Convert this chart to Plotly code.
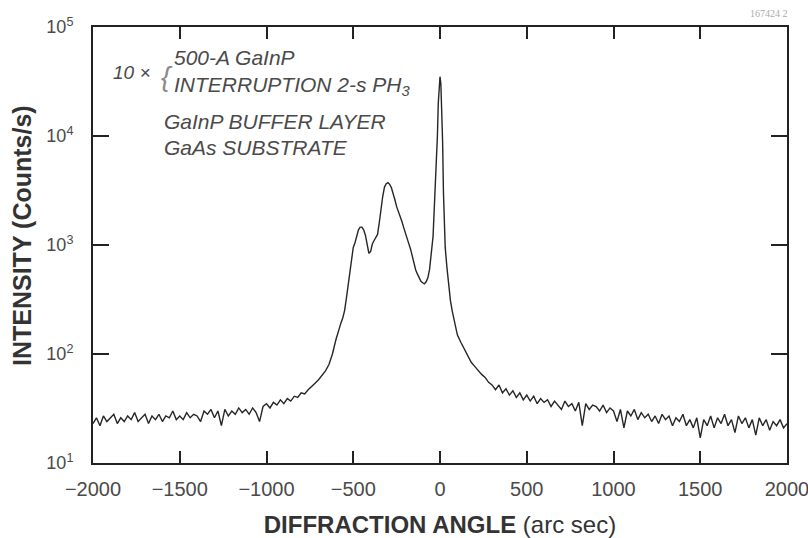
import math
import plotly.graph_objects as go

# ---------------- data ----------------
# left wing, sampled every 20 arc sec from -2000 to -620
angle_left = list(range(-2000, -600, 20))
counts_left = [
    23, 26, 22, 27, 24, 26, 28, 23, 26, 24,
    27, 25, 29, 24, 26, 28, 23, 27, 25, 28,
    24, 27, 26, 30, 25, 27, 25, 29, 26, 28,
    27, 24, 30, 28, 31, 26, 30, 22, 31, 27,
    30, 28, 32, 29, 31, 28, 32, 29, 24, 33,
    35, 32, 36, 34, 38, 35, 39, 37, 41, 40,
    44, 43, 47, 50, 54, 58, 63, 70, 80, 100,
]

# central region with the layer peaks and the substrate peak
angle_peak = [
    -600, -590, -580, -570, -560, -550, -540, -530, -520, -510,
    -500, -490, -480, -470, -460, -450, -440, -430, -420, -410,
    -400, -390, -380, -370, -360, -350, -340, -330, -320, -310,
    -300, -290, -280, -270, -260, -250, -240, -230, -220, -210,
    -200, -190, -180, -170, -160, -150, -140, -130, -120, -110,
    -100, -90, -80, -70, -60, -50, -40, -30, -25, -20,
    -15, -10, -5, 0, 5, 10, 15, 20, 25, 30,
    40, 50, 60, 70, 80, 90,
]
counts_peak = [
    135, 155, 175, 195, 215, 250, 320, 420, 560, 800,
    950, 1050, 1200, 1380, 1460, 1460, 1380, 1230, 1020, 840,
    870, 1020, 1100, 1170, 1250, 1600, 2200, 2800, 3400, 3650,
    3730, 3600, 3350, 3000, 2600, 2250, 2050, 1850, 1650, 1460,
    1280, 1150, 1030, 920, 790, 680, 590, 540, 500, 465,
    450, 440, 460, 500, 600, 850, 1200, 2800, 4000, 5500,
    10000, 20000, 30000, 35000, 30000, 18000, 9000, 3000, 1500, 950,
    620, 400, 310, 250, 205, 175,
]

# right wing, sampled every 20 arc sec from 100 to 2000
angle_right = list(range(100, 2001, 20))
counts_right = [
    150, 128, 110, 97, 84, 77, 70, 65, 61, 55,
    52, 47, 52, 44, 48, 42, 46, 40, 44, 38,
    42, 37, 41, 35, 39, 36, 38, 33, 37, 34,
    31, 37, 33, 35, 30, 36, 22, 35, 31, 34,
    33, 30, 34, 29, 32, 30, 24, 31, 21, 30,
    27, 31, 25, 29, 26, 28, 24, 27, 23, 28,
    25, 27, 22, 26, 24, 28, 22, 25, 21, 26,
    17, 25, 22, 27, 21, 26, 23, 28, 22, 25,
    19, 27, 23, 26, 21, 25, 18, 26, 22, 25,
    20, 24, 22, 25, 21, 23,
]

x_tick_values = [-2000, -1500, -1000, -500, 0, 500, 1000, 1500, 2000]
x_tick_labels = ["\u22122000", "\u22121500", "\u22121000", "\u2212500", "0",
                 "500", "1000", "1500", "2000"]
y_tick_values = [10, 100, 1000, 10000, 100000]
y_tick_labels = ["10<sup>1</sup>", "10<sup>2</sup>", "10<sup>3</sup>",
                 "10<sup>4</sup>", "10<sup>5</sup>"]
y_minor_values = [m * 10 ** d for d in range(1, 5) for m in range(2, 10)]

angle = angle_left + angle_peak + angle_right
counts = counts_left + counts_peak + counts_right

# ---------------- figure ----------------
AXIS = "#222222"
TXT = "#4a4a4a"
FONT = "Liberation Sans, Arial, sans-serif"
W, H = 808, 538
L, R, T, B = 93, 21, 27, 75
PW, PH = W - L - R, H - T - B


def px_to_paper(px, py):
    return (px - L) / PW, (H - B - py) / PH


fig = go.Figure()
fig.add_trace(go.Scatter(
    x=angle, y=counts, mode="lines",
    line=dict(color="#262626", width=1.4),
    showlegend=False, hoverinfo="skip",
))

fig.update_layout(
    width=W, height=H,
    margin=dict(l=L, r=R, t=T, b=B, autoexpand=False),
    paper_bgcolor="white", plot_bgcolor="white",
    font=dict(family=FONT, color=TXT, size=17),
    xaxis=dict(
        range=[-2000, 2000], automargin=False,
        tickmode="array", tickvals=x_tick_values, ticktext=x_tick_labels,
        ticks="inside", ticklen=12, tickwidth=1.5, tickcolor=AXIS,
        showline=True, linecolor=AXIS, linewidth=2, mirror="allticks",
        showgrid=False, zeroline=False,
        tickfont=dict(size=20, color=TXT), ticklabelstandoff=7,
        ticklabeloverflow="allow",
        title=dict(
            text="<b>DIFFRACTION ANGLE</b> (arc sec)",
            font=dict(size=24, color="#333333"), standoff=20),
    ),
    yaxis=dict(
        type="log", range=[1, 5], automargin=False,
        tickmode="array", tickvals=y_tick_values, ticktext=y_tick_labels,
        ticks="inside", ticklen=16, tickwidth=1.5, tickcolor=AXIS,
        showline=True, linecolor=AXIS, linewidth=2, mirror="allticks",
        showgrid=False, zeroline=False,
        tickfont=dict(size=18, color=TXT), ticklabelstandoff=14,
        ticklabeloverflow="allow",
    ),
)

# minor (2..9) ticks of the log axis, inside, on the left and right frame.
# Shapes on a log axis take log10 of the value.
minor_len = 10 / PW
for v in y_minor_values:
    lv = math.log10(v)
    for x0, x1 in ((0, minor_len), (1 - minor_len, 1)):
        fig.add_shape(
            type="line", xref="paper", yref="y", x0=x0, x1=x1, y0=lv, y1=lv,
            line=dict(color="#1a1a1a", width=1.5), layer="above",
        )

ann_font = dict(family=FONT, size=21, color=TXT)
notes = [
    (111, 72, "<i>10 \u00d7</i>", dict(family=FONT, size=19, color=TXT)),
    (159, 76, "<i>{</i>", dict(family=FONT, size=28, color="#8a8a8a")),
    (172, 58, "<i>500-A GaInP</i>", ann_font),
    (172, 86, "<i>INTERRUPTION 2-s PH<sub>3</sub></i>", ann_font),
    (162, 122, "<i>GaInP BUFFER LAYER</i>", ann_font),
    (162, 147, "<i>GaAs SUBSTRATE</i>", ann_font),
]
for px, py, txt, fnt in notes:
    ax_, ay_ = px_to_paper(px, py)
    fig.add_annotation(
        x=ax_, y=ay_, xref="paper", yref="paper",
        xanchor="left", yanchor="middle", text=txt, showarrow=False,
        font=fnt,
    )

# y-axis title placed as an annotation
tx, ty = px_to_paper(22, 236)
fig.add_annotation(
    x=tx, y=ty, xref="paper", yref="paper", xanchor="center",
    yanchor="middle", textangle=-90, showarrow=False,
    text="<b>INTENSITY (Counts/s)</b>",
    font=dict(family=FONT, size=25, color="#333333"),
)

fig.add_annotation(
    x=1, y=1, xref="paper", yref="paper", xanchor="right", yanchor="bottom",
    xshift=3, yshift=6, text="167424 2", showarrow=False,
    font=dict(family="Liberation Serif, serif", size=10, color="#aaaaaa"),
)

fig.write_html("out.html")
